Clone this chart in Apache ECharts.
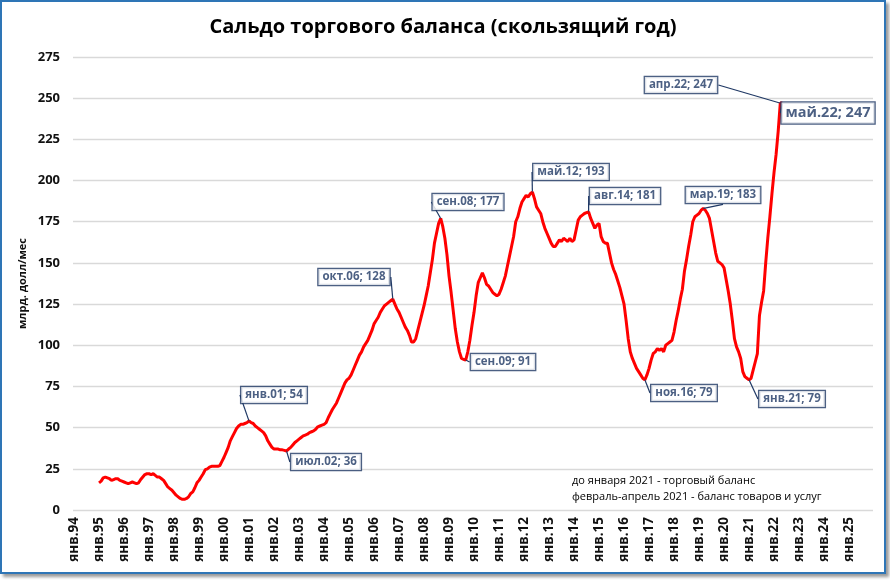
<!DOCTYPE html>
<html>
<head>
<meta charset="utf-8">
<script src="https://cdn.jsdelivr.net/npm/echarts@6/dist/echarts.min.js"></script>
<style>
    html, body {margin: 0; padding: 0; background: #fff;}
    #frame {position: absolute; left: 0; top: 0; width: 882px; height: 570px;
        border: 2px solid #2e75b6; box-shadow: 3px 3px 3px #9a9a9a; background: #fff;}
    #chart {width: 882px; height: 570px;}
</style>
</head>
<body>
<div id="frame"><div id="chart"></div></div>
<script>
// подписи месяцев
var monthNames = ['янв', 'фев', 'мар', 'апр', 'май', 'июн', 'июл', 'авг', 'сен', 'окт', 'ноя', 'дек'];
var firstYear = 1994;
var lastYear = 2025;

// сальдо, млрд долл/мес (скользящий год), помесячно с янв.95
var y1995 = [16.5, 17.5, 19.5, 20, 19.5, 19, 18, 18.5, 19, 19, 18, 17.5];
var y1996 = [17, 16.5, 16, 16.5, 17, 16.5, 16, 16.5, 18.5, 20, 21.5, 22];
var y1997 = [22, 21.5, 22, 21, 20, 20, 19, 18, 16, 14, 13, 12];
var y1998 = [10.5, 9, 8, 7, 6.5, 6.5, 7, 8, 10, 11, 13.5, 16.5];
var y1999 = [18, 20, 22, 24.5, 25, 26, 26.5, 26.5, 26.5, 26.5, 27, 29.5];
var y2000 = [32, 35, 38, 42, 44.5, 47, 49.5, 51, 52, 52, 52.5, 53];
var y2001 = [54, 53, 52.5, 51, 50, 49, 48, 47, 45, 42, 40, 38];
var y2002 = [37, 37, 37, 36.5, 36.5, 36.2, 35.8, 37, 38, 39.5, 41, 42];
var y2003 = [43, 44, 45, 45.5, 46, 47, 47.5, 48, 49, 50.5, 51, 51.5];
var y2004 = [52, 53, 56, 58.5, 61, 63, 65, 68, 71, 74, 77, 79];
var y2005 = [80, 82, 85, 88, 91, 94, 96, 99, 101, 103, 106, 109];
var y2006 = [113, 115, 117, 120, 122, 124, 125, 126, 127, 128, 125, 122];
var y2007 = [120, 117, 114, 111, 109, 106, 102, 102, 104, 109, 114, 119];
var y2008 = [124, 130, 136, 144, 152, 162, 168, 174, 177, 172, 165, 155];
var y2009 = [142, 132, 121, 110, 102, 96, 92, 91.5, 91, 96, 103, 112];
var y2010 = [120, 130, 138, 141, 144, 141, 137, 136, 134, 132, 131, 130];
var y2011 = [131, 134, 138, 142, 148, 154, 160, 166, 175, 178, 183, 187];
var y2012 = [189, 191, 190, 192, 193, 189, 184, 182, 180, 175, 171, 168];
var y2013 = [165, 162, 160, 160, 162, 164, 163, 165, 164, 163, 165, 163];
var y2014 = [164, 170, 176, 178, 179, 180, 180.5, 181, 177, 174, 171, 173];
var y2015 = [174, 166, 163, 162, 162, 156, 150, 146, 143, 139, 135, 130];
var y2016 = [125, 115, 104, 96, 92, 89, 86, 84, 82, 80, 79, 82];
var y2017 = [86, 91, 95, 96, 98, 97, 98, 96, 100, 101, 102, 103];
var y2018 = [108, 115, 121, 128, 134, 145, 152, 160, 167, 175, 178, 179];
var y2019 = [180, 182, 183, 182, 180, 177, 170, 163, 156, 151, 150, 149];
var y2020 = [147, 140, 133, 125, 115, 104, 99, 96, 92, 84, 81, 80];
var y2021 = [79, 80, 85, 90, 95, 118, 126, 133, 150, 165, 178, 192];
var y2022 = [205, 216, 230, 247, 247];

// подписанные точки
var calloutMonths = ['янв.01', 'июл.02', 'окт.06', 'сен.08', 'сен.09', 'май.12',
    'авг.14', 'ноя.16', 'мар.19', 'янв.21', 'апр.22', 'май.22'];

var noteLines = ['до января 2021 - торговый баланс', 'февраль-апрель 2021 - баланс товаров и услуг'];

// ---- сборка
var categories = [];
for (var y = firstYear; y <= lastYear; y++) {
    for (var m = 0; m < 12; m++) {
        categories.push(monthNames[m] + '.' + String(y).slice(2));
    }
}
var values = [].concat(
    new Array(12).fill(null),
    y1995, y1996, y1997, y1998, y1999, y2000, y2001, y2002, y2003, y2004, y2005,
    y2006, y2007, y2008, y2009, y2010, y2011, y2012, y2013, y2014, y2015, y2016,
    y2017, y2018, y2019, y2020, y2021, y2022
);
while (values.length < categories.length) values.push(null);

// положение выносок (центр рамки, px)
var calloutBoxes = {
    'янв.01': [272, 393], 'июл.02': [324, 460], 'окт.06': [352, 275], 'сен.08': [466, 200],
    'сен.09': [501, 360], 'май.12': [569, 170], 'авг.14': [623, 194], 'ноя.16': [682, 391],
    'мар.19': [721, 193], 'янв.21': [790, 397], 'апр.22': [679, 83], 'май.22': [826, 111]
};

var calloutData = calloutMonths.map(function (name) {
    var i = categories.indexOf(name);
    var item = {value: [name, values[i]], name: name};
    if (name === 'май.22') {
        item.label = {fontSize: 14.5, padding: [4, 4, 2, 4]};
    }
    return item;
});

var chart = echarts.init(document.getElementById('chart'));
var font = '"Open Sans", "Noto Sans", sans-serif';

chart.setOption({
    animation: false,
    textStyle: {fontFamily: font},
    title: {
        text: 'Сальдо торгового баланса (скользящий год)',
        left: 'center', top: 10,
        textStyle: {fontFamily: font, fontSize: 20, fontWeight: 'bold', color: '#000'}
    },
    grid: {left: 71, right: 11, top: 55, bottom: 62},
    xAxis: {
        type: 'category',
        data: categories,
        boundaryGap: true,
        axisLine: {show: false},
        axisTick: {show: false},
        splitLine: {show: false},
        axisLabel: {
            rotate: 90, margin: 7, fontSize: 13.5, fontWeight: 'bold', color: '#111',
            fontFamily: font,
            interval: function (index) { return index % 12 === 0; }
        }
    },
    yAxis: {
        type: 'value',
        min: 0, max: 275, interval: 25,
        name: 'млрд. долл/мес',
        nameLocation: 'middle',
        nameGap: 45,
        nameMoveOverlap: false,
        nameTextStyle: {fontSize: 11, fontWeight: 'bold', color: '#111', fontFamily: font},
        axisLine: {show: false},
        axisTick: {show: false},
        axisLabel: {fontSize: 13, fontWeight: 'bold', color: '#111', margin: 13, fontFamily: font},
        splitLine: {lineStyle: {color: '#d9d9d9', width: 1.3}}
    },
    series: [{
        type: 'line',
        data: values,
        showSymbol: false,
        connectNulls: false,
        lineStyle: {color: '#ff0000', width: 3},
        itemStyle: {color: '#ff0000'},
        z: 2
    }, {
        type: 'scatter',
        data: calloutData,
        symbolSize: 1,
        itemStyle: {color: '#1f3864'},
        z: 5,
        label: {
            show: true,
            formatter: function (p) { return p.name + '; ' + Math.round(p.value[1]); },
            fontSize: 11.5, fontWeight: 'bold', color: '#1f3864', fontFamily: font,
            backgroundColor: '#fff', borderColor: '#1f3864', borderWidth: 1.3,
            padding: [3, 4, 1, 4]
        },
        labelLine: {show: true, lineStyle: {color: '#1f3864', width: 1.2}},
        labelLayout: function (p) {
            var name = calloutMonths[p.dataIndex];
            var pos = calloutBoxes[name];
            return {x: pos[0], y: pos[1], align: 'center', verticalAlign: 'middle', hideOverlap: false};
        }
    }],
    graphic: noteLines.map(function (t, k) {
        return {
            type: 'text', left: 570, top: 473 + k * 16,
            style: {text: t, fontSize: 11, fill: '#000', fontFamily: font}
        };
    })
});
</script>
</body>
</html>
